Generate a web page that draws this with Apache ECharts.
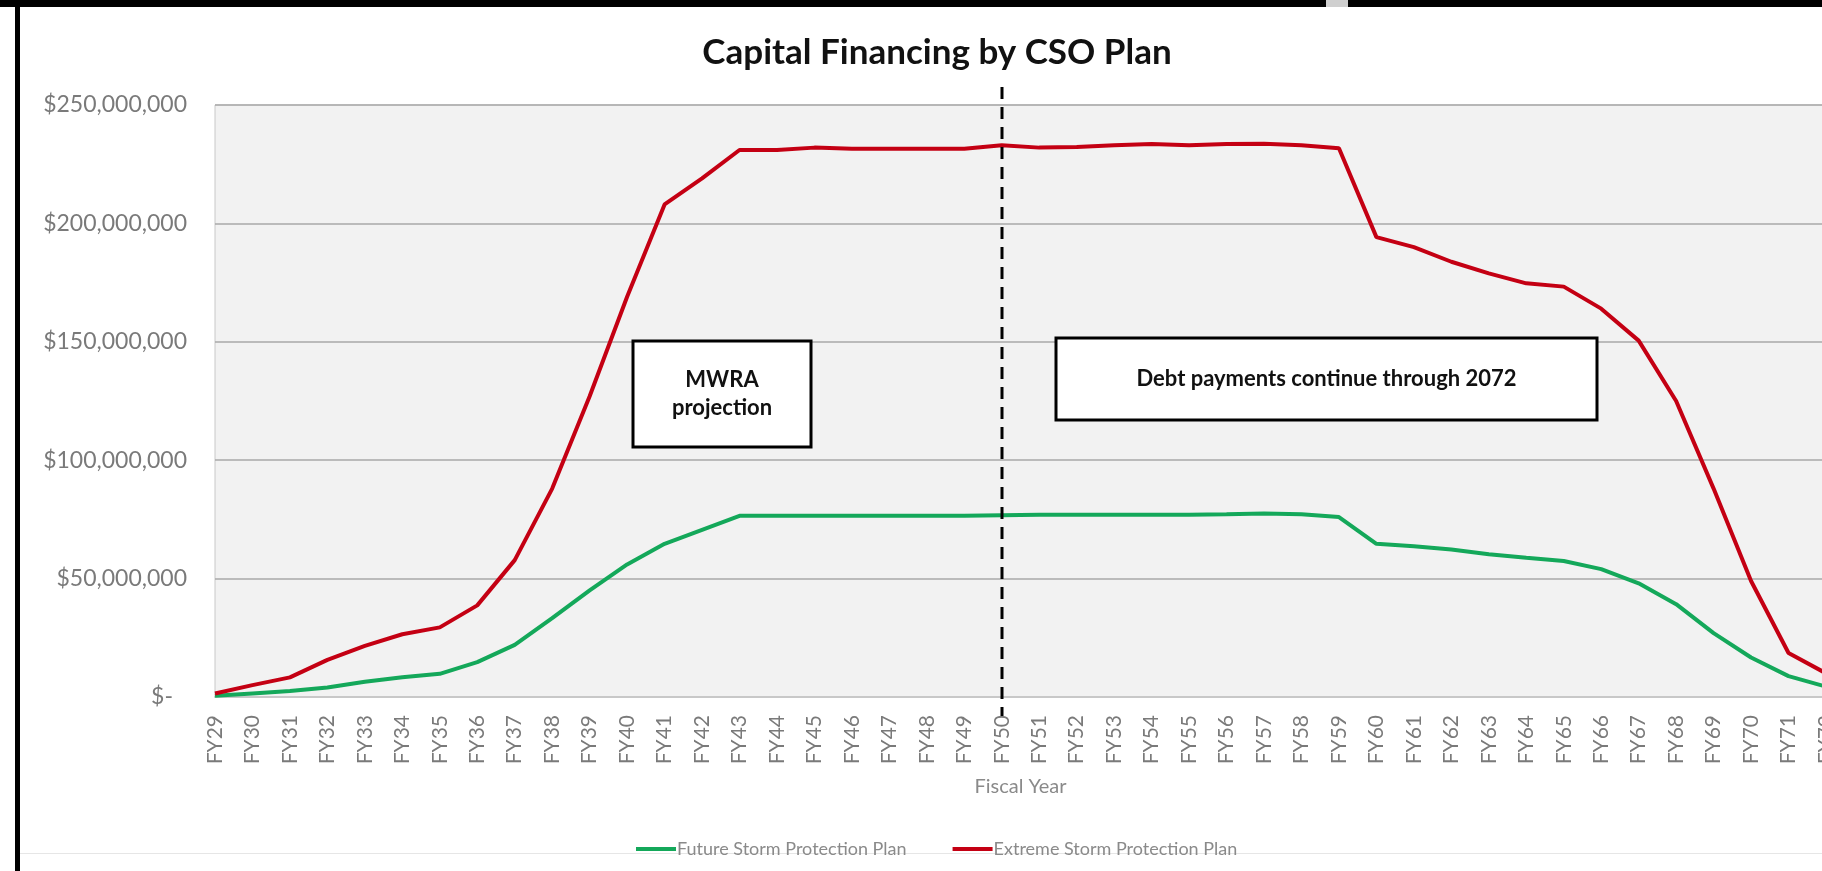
<!DOCTYPE html>
<html>
<head>
<meta charset="utf-8">
<title>Capital Financing by CSO Plan</title>
<script src="https://cdn.jsdelivr.net/npm/echarts@6/dist/echarts.min.js"></script>
<style>
  html, body { margin: 0; padding: 0; background: #fff; }
  #chart { width: 1822px; height: 871px; }
</style>
</head>
<body>
<div id="chart"></div>
<script>
// fiscal years FY29 .. FY72
var years = ['FY29', 'FY30', 'FY31', 'FY32', 'FY33', 'FY34', 'FY35', 'FY36', 'FY37', 'FY38',
  'FY39', 'FY40', 'FY41', 'FY42', 'FY43', 'FY44', 'FY45', 'FY46', 'FY47', 'FY48',
  'FY49', 'FY50', 'FY51', 'FY52', 'FY53', 'FY54', 'FY55', 'FY56', 'FY57', 'FY58',
  'FY59', 'FY60', 'FY61', 'FY62', 'FY63', 'FY64', 'FY65', 'FY66', 'FY67', 'FY68',
  'FY69', 'FY70', 'FY71', 'FY72']

// values in millions of dollars
var futurePlan = [0.5, 1.5, 2.5, 4, 6.4, 8.3, 9.8, 14.7, 22, 33.3,
  45, 56, 64.7, 70.6, 76.5, 76.5, 76.5, 76.5, 76.5, 76.5,
  76.5, 76.8, 77, 77, 77, 77, 77, 77.2, 77.5, 77.2,
  76, 64.7, 63.7, 62.3, 60.3, 58.8, 57.4, 54, 48, 39.2,
  27, 16.7, 8.8, 4.4]

var extremePlan = [1.5, 5, 8.3, 15.7, 21.6, 26.5, 29.4, 38.7, 57.8, 88,
  127, 169, 208, 219, 231, 231, 232, 231.5, 231.5, 231.5,
  231.5, 233, 232, 232.3, 233, 233.5, 233, 233.5, 233.6, 233,
  231.7, 194.2, 190, 183.8, 178.9, 174.7, 173.3, 164, 150.5, 125,
  88, 49, 18.6, 10]

var yTicks = [0, 50, 100, 150, 200, 250]
var splitYear = 'FY50'

var GREEN = '#14a85a'
var RED = '#c40013'
var FONT = 'Lato'

var chart = echarts.init(document.getElementById('chart'))

function money(v) {
  if (v === 0) return '{z|$-}'
  return '$' + (v * 1000000).toLocaleString('en-US')
}

chart.setOption({
  backgroundColor: '#fff',
  animation: false,
  title: {
    text: 'Capital Financing by CSO Plan',
    left: 932,
    top: 30,
    textAlign: 'center',
    textStyle: {
      fontFamily: FONT,
      fontWeight: 'bold',
      fontSize: 35,
      color: '#111'
    }
  },
  legend: {
    left: 631,
    top: 835,
    icon: 'rect',
    itemWidth: 40,
    itemHeight: 4,
    itemGap: 46,
    data: ['Future Storm Protection Plan', 'Extreme Storm Protection Plan'],
    textStyle: {
      fontFamily: FONT,
      fontSize: 18,
      color: '#8a8a8a',
      padding: [0, 0, 0, -4]
    }
  },
  grid: {
    left: 215,
    top: 105,
    right: -4,
    bottom: 174,
    show: true,
    backgroundColor: '#f2f2f2',
    borderColor: '#c8c8c8',
    borderWidth: 1,
    outerBoundsMode: 'none'
  },
  xAxis: {
    type: 'category',
    data: years,
    boundaryGap: false,
    name: 'Fiscal Year',
    nameLocation: 'middle',
    nameGap: 80,
    nameTextStyle: {
      fontFamily: FONT,
      fontSize: 20,
      color: '#8a8a8a'
    },
    axisLine: { lineStyle: { color: '#c8c8c8', width: 2 } },
    axisTick: { show: false },
    axisLabel: {
      rotate: 90,
      interval: 0,
      margin: 18,
      fontFamily: FONT,
      fontSize: 21,
      color: '#7a7a7a'
    },
    splitLine: { show: false }
  },
  yAxis: {
    type: 'value',
    min: yTicks[0],
    max: yTicks[yTicks.length - 1],
    interval: 50,
    axisLine: { show: false },
    axisTick: { show: false },
    axisLabel: {
      margin: 28,
      fontFamily: FONT,
      fontSize: 23,
      color: '#7a7a7a',
      formatter: money,
      rich: {
        z: { fontFamily: FONT, fontSize: 23, color: '#7a7a7a', padding: [0, 14, 0, 0] }
      }
    },
    splitLine: { lineStyle: { color: '#a8a8a8', width: 1.5 } }
  },
  series: [
    {
      name: 'Future Storm Protection Plan',
      type: 'line',
      data: futurePlan,
      showSymbol: false,
      symbol: 'none',
      lineStyle: { color: GREEN, width: 4 },
      itemStyle: { color: GREEN }
    },
    {
      name: 'Extreme Storm Protection Plan',
      type: 'line',
      data: extremePlan,
      showSymbol: false,
      symbol: 'none',
      lineStyle: { color: RED, width: 4 },
      itemStyle: { color: RED }
    }
  ]
})

// dashed divider at FY50, placed through the category scale
var splitX = Math.round(chart.convertToPixel({ xAxisIndex: 0 }, splitYear))

function noteBox(x, y, w, h, text) {
  return {
    type: 'group',
    z: 100,
    children: [
      {
        type: 'rect',
        shape: { x: x, y: y, width: w, height: h },
        style: { fill: '#fff', stroke: '#000', lineWidth: 3 }
      },
      {
        type: 'text',
        style: {
          x: x + w / 2,
          y: y + h / 2,
          text: text,
          align: 'center',
          verticalAlign: 'middle',
          fontFamily: FONT,
          fontWeight: 'bold',
          fontSize: 22,
          lineHeight: 28,
          fill: '#111'
        }
      }
    ]
  }
}

chart.setOption({
  graphic: [
    // scanned page frame
    { type: 'rect', z: 200, shape: { x: 0, y: 0, width: 1822, height: 7 }, style: { fill: '#000' } },
    { type: 'rect', z: 201, shape: { x: 1326, y: 0, width: 22, height: 7 }, style: { fill: '#cfcfcf' } },
    { type: 'rect', z: 200, shape: { x: 15, y: 0, width: 5, height: 871 }, style: { fill: '#000' } },
    { type: 'rect', z: 1, shape: { x: 20, y: 853, width: 1802, height: 1 }, style: { fill: '#e6e6e6' } },
    {
      type: 'line',
      z: 90,
      shape: { x1: splitX, y1: 87, x2: splitX, y2: 716 },
      style: { stroke: '#000', lineWidth: 3, lineDash: [12, 8] }
    },
    noteBox(633, 341, 178, 106, 'MWRA\nprojection'),
    noteBox(1056, 338, 541, 82, 'Debt payments continue through 2072')
  ]
})
</script>
</body>
</html>
